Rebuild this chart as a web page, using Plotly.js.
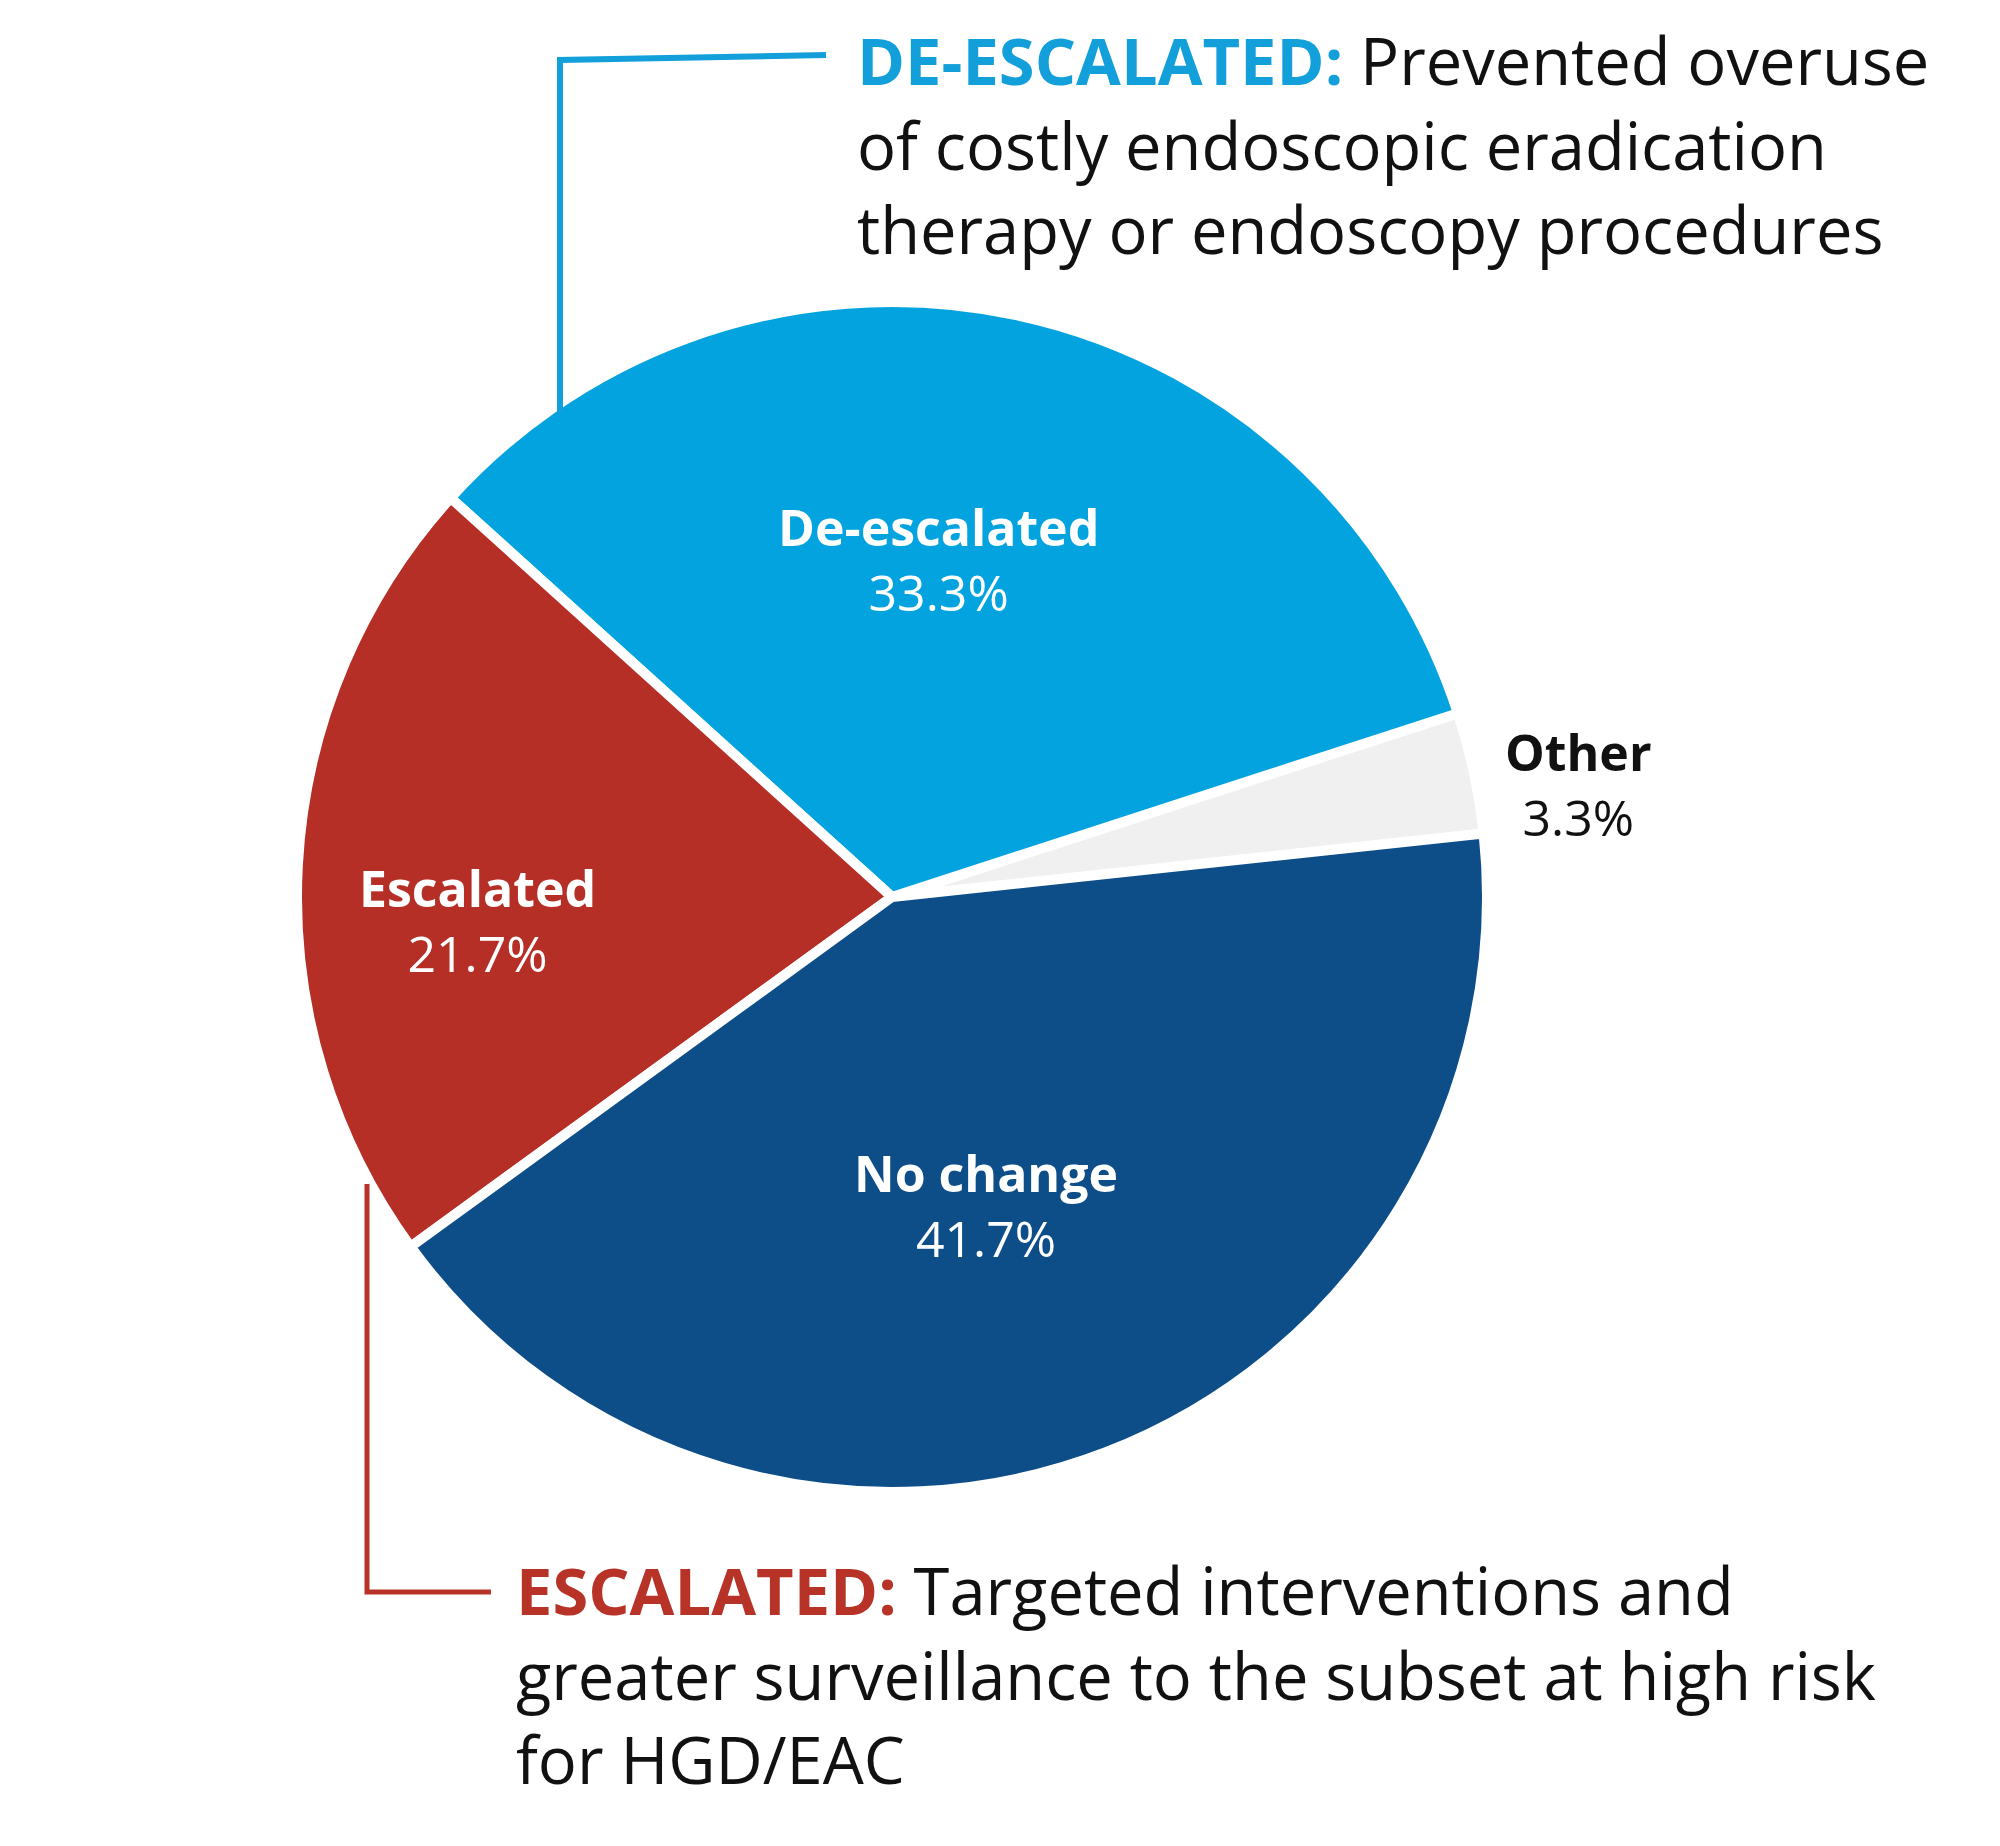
<!DOCTYPE html>
<html>
<head>
<meta charset="utf-8">
<script src="https://cdn.plot.ly/plotly-3.0.1.min.js"></script>
<style>html,body{margin:0;padding:0;background:#fff;}</style>
</head>
<body>
<div id="chart" style="width:2000px;height:1846px;"></div>
<script>
// Data
const categories = ["Other", "De-escalated", "Escalated", "No change"];
const shares = [3.3, 33.3, 21.7, 41.7];
const sliceColors = ["#F0F0F0", "#03A3DF", "#B52F27", "#0D4D88"];
const labelColors = ["#111111", "#ffffff", "#ffffff", "#ffffff"];

const calloutDe = {head: "DE-ESCALATED:", body: "Prevented overuse<br>of costly endoscopic eradication<br>therapy or endoscopy procedures"};
const calloutEs = {head: "ESCALATED:", body: "Targeted interventions and<br>greater surveillance to the subset at high risk<br>for HGD/EAC"};

// Styling / geometry
const W = 2000, H = 1846;
const CX = 892, CY = 897, R = 595;
const ROTATION = 72;                 // plotly rotation (deg)
const START_MATH = 90 - ROTATION - 12; // math angle where first slice starts (observed plotly behaviour)
const labelRadius = [1.178, 0.573, 0.703, 0.547];   // fraction of radius
const labelNudge = [[7, 31], [-25, -7], [0, 47], [-21, 7]]; // px (right, down)
const px = x => x / W, py = y => 1 - y / H;

const trace = {
  type: "pie",
  labels: categories,
  values: shares,
  sort: false,
  direction: "counterclockwise",
  rotation: ROTATION,
  marker: {colors: sliceColors, line: {color: "#ffffff", width: 10}},
  textinfo: "none",
  domain: {x: [px(CX - R), px(CX + R)], y: [py(CY + R), py(CY - R)]},
  automargin: false,
  hoverinfo: "none",
  showlegend: false
};

// slice labels, positioned from the data (mid-angle of each slice)
const total = shares.reduce((a, b) => a + b, 0);
let acc = 0;
const sliceLabels = shares.map((v, i) => {
  const mid = START_MATH + (acc + v / 2) / total * 360;
  acc += v;
  const a = mid * Math.PI / 180;
  const r = labelRadius[i] * (R - 5);
  const x = CX + r * Math.cos(a) + labelNudge[i][0];
  const y = CY - r * Math.sin(a) + labelNudge[i][1];
  return {
    xref: "paper", yref: "paper", x: px(x), y: py(y),
    xanchor: "center", yanchor: "middle", align: "center", showarrow: false,
    font: {family: "Open Sans, sans-serif", size: 50, color: labelColors[i]},
    text: `<b>${categories[i]}</b><br>${(v / total * 100).toFixed(1)}%`
  };
});

const calloutFont = {family: "Open Sans, sans-serif", size: 65, color: "#111111"};

const layout = {
  width: W, height: H,
  margin: {l: 0, r: 0, t: 0, b: 0},
  paper_bgcolor: "#ffffff",
  showlegend: false,
  shapes: [
    {type: "path", xref: "paper", yref: "paper",
     path: `M ${px(560)} ${py(412)} L ${px(560)} ${py(60)} L ${px(826)} ${py(55)}`,
     line: {color: "#129FDA", width: 6}},
    {type: "path", xref: "paper", yref: "paper",
     path: `M ${px(367)} ${py(1184)} L ${px(367)} ${py(1592)} L ${px(491)} ${py(1592)}`,
     line: {color: "#B73227", width: 5}}
  ],
  annotations: sliceLabels.concat([
    {xref: "paper", yref: "paper", x: px(855), y: py(14), xanchor: "left", yanchor: "top",
     align: "left", showarrow: false, font: calloutFont,
     text: `<b><span style="color:#129FDA">${calloutDe.head}</span></b> ${calloutDe.body}`},
    {xref: "paper", yref: "paper", x: px(514), y: py(1544), xanchor: "left", yanchor: "top",
     align: "left", showarrow: false, font: calloutFont,
     text: `<b><span style="color:#B73227">${calloutEs.head}</span></b> ${calloutEs.body}`}
  ])
};

Plotly.newPlot("chart", [trace], layout, {staticPlot: true, displayModeBar: false});
</script>
</body>
</html>
